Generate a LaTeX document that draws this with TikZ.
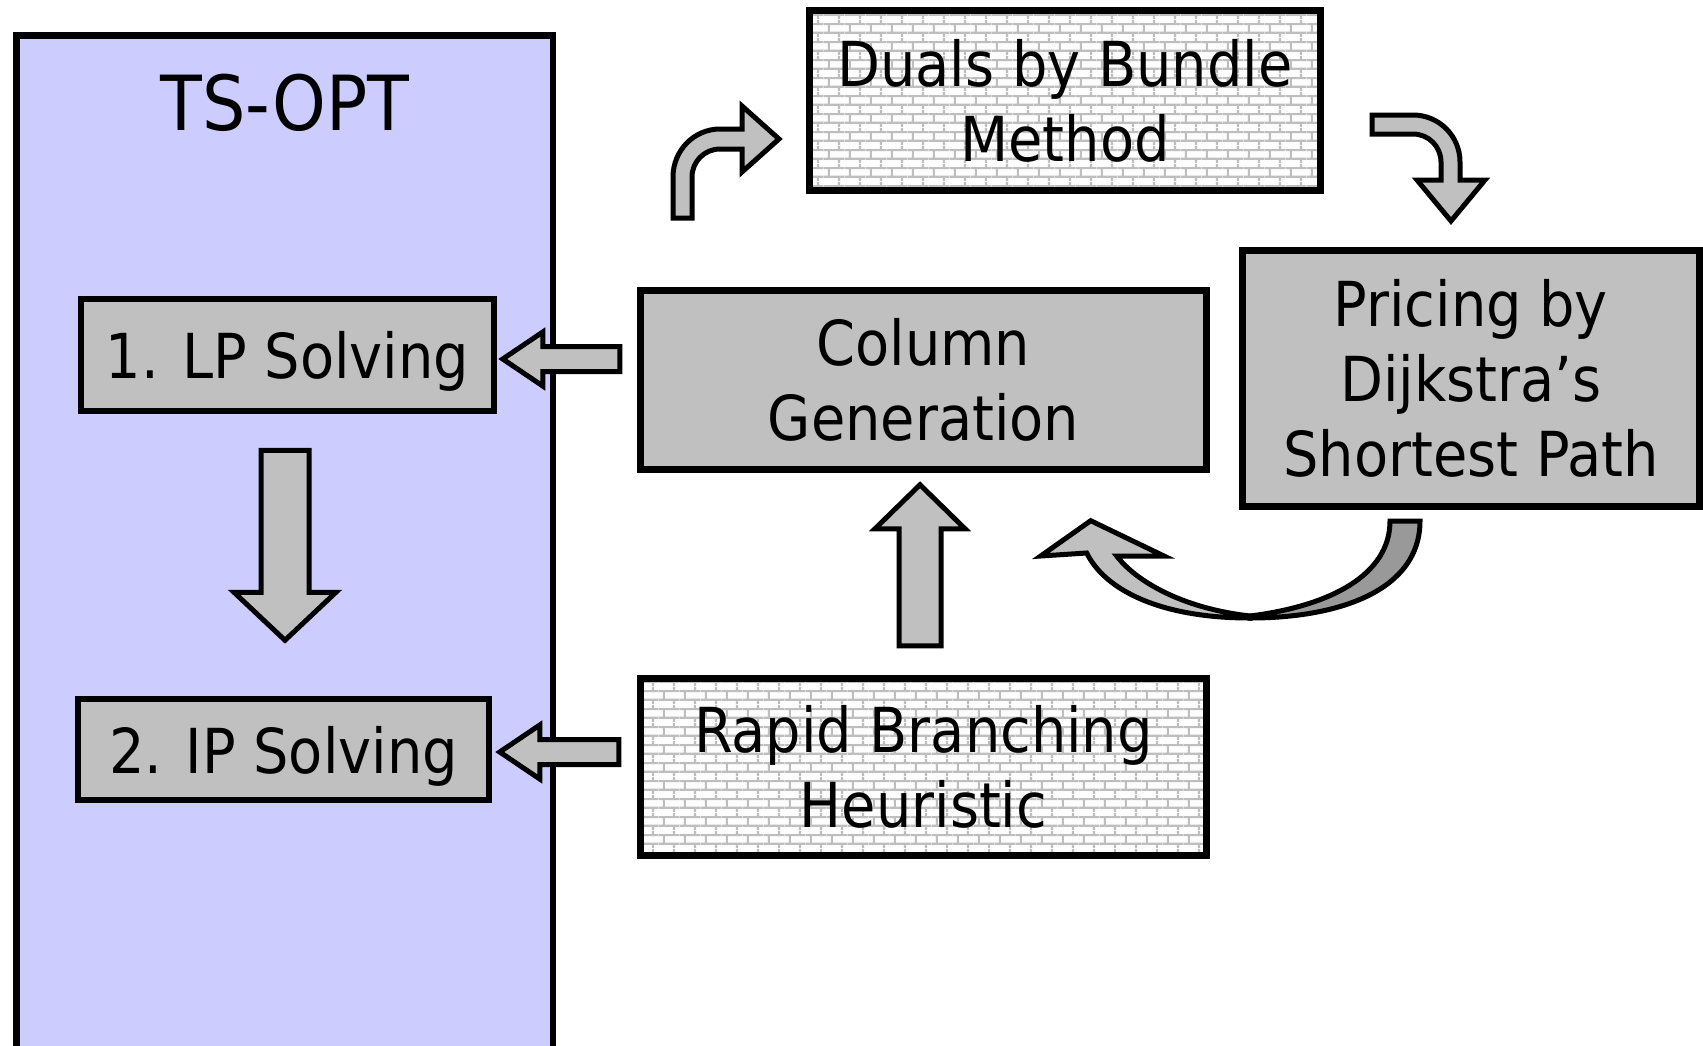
\documentclass[tikz,border=0pt]{standalone}
\usepackage{fontspec}
\IfFontExistsTF{DejaVu Sans Condensed}{\setmainfont{DejaVu Sans Condensed}}{\setmainfont{DejaVu Sans}}
\usetikzlibrary{patterns.meta,calc}

\definecolor{boxgray}{HTML}{C0C0C0}
\definecolor{panelblue}{HTML}{CCCCFF}
\definecolor{backgray}{HTML}{999999}
\definecolor{mortar}{HTML}{BEBEBE}
\definecolor{brickface}{HTML}{FDFDFD}

% light brick wall fill used by the two heuristic boxes
\tikzdeclarepattern{
  name=brickwall,
  type=colored,
  bounding box={(0pt,0pt) and (20.6pt,18pt)},
  tile size={(20.6pt,18pt)},
  code={
    \fill[brickface] (0pt,0pt) rectangle (20.6pt,18pt);
    \draw[mortar, line width=2.2pt]
      (0pt,4.5pt) -- (20.6pt,4.5pt)
      (0pt,13.5pt) -- (20.6pt,13.5pt)
      (5pt,4.5pt) -- (5pt,13.5pt)
      (15.3pt,13.5pt) -- (15.3pt,18pt)
      (15.3pt,0pt) -- (15.3pt,4.5pt);
  }
}

\newcommand\boxfont{\fontsize{62}{75}\selectfont}

\begin{document}
\begin{tikzpicture}[x=1pt,y=-1pt,
  box/.style={draw=black, line width=6.5pt, fill=boxgray, inner sep=0pt,
    align=center, font=\boxfont},
  brickbox/.style={box, pattern=brickwall},
  oneline/.style={text height=62pt, text depth=15pt},
  panel/.style={draw=black, line width=6.5pt, fill=panelblue, inner sep=0pt},
  blockarrow/.style={draw=black, line width=5pt, fill=boxgray, line join=miter},
  backarrow/.style={draw=black, line width=5pt, fill=backgray, line join=miter}]

\useasboundingbox (0,0) rectangle (1703,1045);
\clip (0,0) rectangle (1703,1045);

% TS-OPT panel (runs off the bottom edge)
\node[panel, minimum width=536.4, minimum height=1060, anchor=north west] (tsopt) at (13.3,32) {};
\node[font=\fontsize{76}{90}\selectfont, anchor=base] (tstitle) at (285,130) {TS-OPT};

% boxes
\node[box, oneline, minimum width=413, minimum height=112] (lp) at (287.5,355) {1. LP Solving};
\node[box, oneline, minimum width=411, minimum height=101] (ip) at (283.5,749.5) {2. IP Solving};
\node[box, minimum width=566, minimum height=179] (cg) at (923.5,380) {Column\\Generation};
\node[brickbox, minimum width=511, minimum height=180] (duals) at (1065,100.5) {Duals by Bundle\\Method};
\node[box, minimum width=457, minimum height=256] (pricing) at (1471,378.5) {Pricing by\\Dijkstra’s\\Shortest Path};
\node[brickbox, minimum width=566, minimum height=177] (rapid) at (923.5,767) {Rapid Branching\\Heuristic};

% straight block arrows
\coordinate (a1) at ($(lp.east)+(5.5,4)$);
\coordinate (a2) at ($(ip.east)+(7.5,2.5)$);
\coordinate (a3) at ($(lp.south)+(-2.5,36)$);
\coordinate (a4) at ($(cg.south)+(-3.5,12)$);

\draw[blockarrow] (a1) -- ++(40,-27) -- ++(0,14.5) -- ++(77,0) -- ++(0,25)
  -- ++(-77,0) -- ++(0,14.5) -- cycle;
\draw[blockarrow] (a2) -- ++(40,-27) -- ++(0,14.5) -- ++(79,0) -- ++(0,25)
  -- ++(-79,0) -- ++(0,14.5) -- cycle;
\begin{scope}[shift={(a3)}]
  \draw[blockarrow] (-24,0) -- (24,0) -- (24,142) -- (51,142) -- (0,190)
    -- (-51,142) -- (-24,142) -- cycle;
\end{scope}
\begin{scope}[shift={(a4)}]
  \draw[blockarrow] (0,0) -- (45,44) -- (21,44) -- (21,161) -- (-21,161)
    -- (-21,44) -- (-45,44) -- cycle;
\end{scope}

% bent arrow up into the duals box
\draw[blockarrow] (673,218) -- (673,177) .. controls (673,150.5) and (694,129) .. (720,129)
  -- (742,129) -- (742,106) -- (779,139) -- (742,172) -- (742,149) -- (720,149)
  .. controls (704.5,149) and (692,161.5) .. (692,177) -- (692,218) -- cycle;

% bent arrow down into the pricing box
\draw[blockarrow] (1372,115) -- (1413,115) .. controls (1439,115) and (1460,136) .. (1460,162)
  -- (1460,180) -- (1485,180) -- (1451,221) -- (1417,180) -- (1441,180) -- (1441,162)
  .. controls (1441,146.5) and (1428.5,134) .. (1413,134) -- (1372,134) -- cycle;

% curved return arrow from pricing back to column generation:
% darker back face first, then the light front face with the head
\draw[backarrow] (1420,521) .. controls (1420,590) and (1340,618) .. (1250,618)
  -- (1250,616) .. controls (1330,606) and (1390,575) .. (1390,521) -- cycle;
\draw[blockarrow] (1086.7,553) -- (1040.7,556) -- (1090.7,520.7) -- (1164,556) -- (1116.7,556)
  .. controls (1135,580) and (1180,608) .. (1250,616) -- (1250,618)
  .. controls (1160,618) and (1105,590) .. (1086.7,553) -- cycle;

\end{tikzpicture}
\end{document}
